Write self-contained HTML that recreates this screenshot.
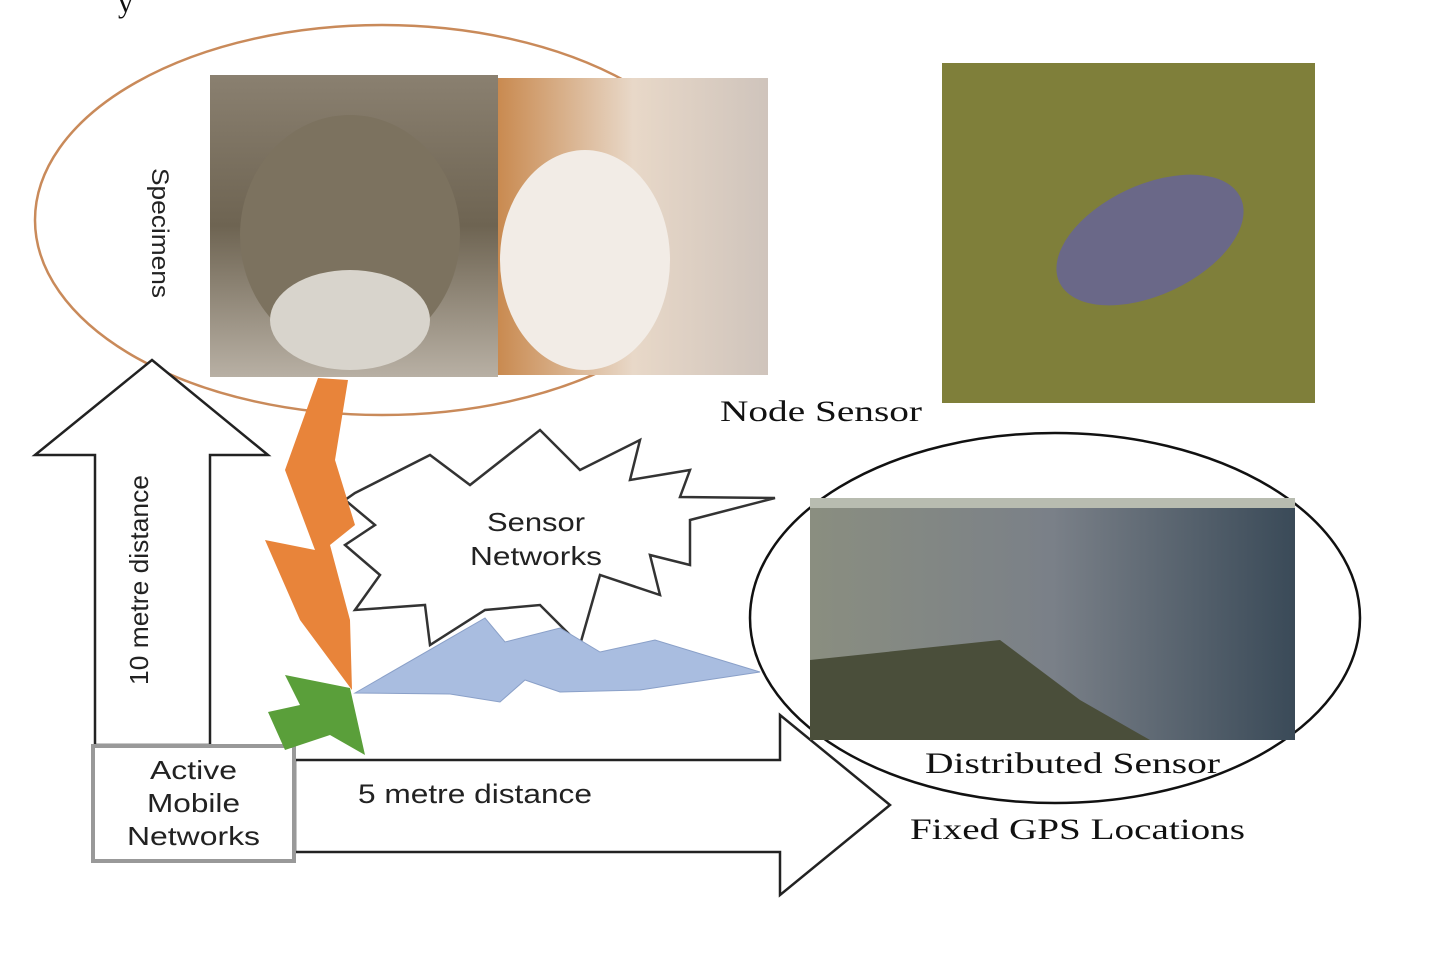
<!DOCTYPE html>
<html><head><meta charset="utf-8"><style>
body{margin:0;background:#fff;}
svg{display:block}
.s{font-family:"Liberation Sans",sans-serif;fill:#222}
.r{font-family:"Liberation Serif",serif;fill:#111}
</style></head><body>
<svg width="1429" height="966" viewBox="0 0 1429 966" xmlns="http://www.w3.org/2000/svg">
<defs>
<linearGradient id="cat" x1="0" y1="0" x2="0" y2="1"><stop offset="0" stop-color="#8a8070"/><stop offset="0.5" stop-color="#6e6452"/><stop offset="1" stop-color="#b8b0a4"/></linearGradient>
<linearGradient id="dog" x1="0" y1="0" x2="1" y2="0"><stop offset="0" stop-color="#c98a50"/><stop offset="0.5" stop-color="#e8d8c8"/><stop offset="1" stop-color="#cfc4bc"/></linearGradient>
<linearGradient id="lake" x1="0" y1="0" x2="1" y2="0"><stop offset="0" stop-color="#8a8e80"/><stop offset="0.5" stop-color="#7a8088"/><stop offset="1" stop-color="#3a4a58"/></linearGradient>
</defs>
<text x="118" y="12" class="r" font-size="30">y</text>
<ellipse cx="382" cy="220" rx="347" ry="195" fill="none" stroke="#c98a5a" stroke-width="2.5"/>
<rect x="210" y="75" width="288" height="302" fill="url(#cat)"/>
<ellipse cx="350" cy="235" rx="110" ry="120" fill="#7c725f"/>
<ellipse cx="350" cy="320" rx="80" ry="50" fill="#d8d4cc"/>
<rect x="498" y="78" width="270" height="297" fill="url(#dog)"/>
<ellipse cx="585" cy="260" rx="85" ry="110" fill="#f2ece6"/>
<text transform="translate(152,168) rotate(90)" class="s" font-size="24" textLength="130" lengthAdjust="spacingAndGlyphs">Specimens</text>
<rect x="942" y="63" width="373" height="340" fill="#7f7f3a"/>
<ellipse cx="1150" cy="240" rx="100" ry="55" fill="#6a6888" transform="rotate(-25 1150 240)"/>
<text x="720" y="421" class="r" font-size="30" textLength="202" lengthAdjust="spacingAndGlyphs">Node Sensor</text>
<polygon points="95,745 95,455 35,455 152,360 268,455 210,455 210,745" fill="#fff" stroke="#222" stroke-width="2.5"/>
<text transform="translate(148,685) rotate(-90)" class="s" font-size="26" textLength="210" lengthAdjust="spacingAndGlyphs">10 metre distance</text>
<polygon points="295,760 780,760 780,715 890,805 780,895 780,852 295,852" fill="#fff" stroke="#222" stroke-width="2.5"/>
<text x="358" y="803" class="s" font-size="27" textLength="234" lengthAdjust="spacingAndGlyphs">5 metre distance</text>
<rect x="93" y="746" width="201" height="115" fill="#fff" stroke="#999" stroke-width="4"/>
<text x="150" y="779" class="s" font-size="26" textLength="87" lengthAdjust="spacingAndGlyphs">Active</text>
<text x="147" y="812" class="s" font-size="26" textLength="93" lengthAdjust="spacingAndGlyphs">Mobile</text>
<text x="127" y="845" class="s" font-size="26" textLength="133" lengthAdjust="spacingAndGlyphs">Networks</text>
<polygon points="355,493 430,455 470,485 540,430 580,470 640,440 630,480 690,470 680,497 775,498 690,520 690,565 650,555 660,595 600,575 580,645 540,605 485,610 430,645 425,605 355,610 380,575 345,545 375,525 345,500" fill="#fff" stroke="#333" stroke-width="2.5"/>
<text x="487" y="531" class="s" font-size="26" textLength="98" lengthAdjust="spacingAndGlyphs">Sensor</text>
<text x="470" y="565" class="s" font-size="26" textLength="132" lengthAdjust="spacingAndGlyphs">Networks</text>
<polygon points="318,378 348,380 335,460 355,525 330,545 350,620 352,690 300,620 265,540 315,550 285,470" fill="#e8843a"/>
<polygon points="355,693 485,618 505,642 560,628 600,652 655,640 760,672 640,690 560,692 525,680 500,702 450,694" fill="#a9bde0" stroke="#8aa0c8" stroke-width="1"/>
<polygon points="285,675 350,688 365,755 330,735 285,750 268,712 300,705" fill="#5a9f3a"/>
<ellipse cx="1055" cy="618" rx="305" ry="185" fill="none" stroke="#111" stroke-width="2.5"/>
<rect x="810" y="498" width="485" height="242" fill="url(#lake)"/>
<rect x="810" y="498" width="485" height="10" fill="#b8bcb0"/>
<polygon points="810,660 1000,640 1080,700 1150,740 810,740" fill="#4a4e3a"/>
<text x="925" y="773" class="r" font-size="30" textLength="295" lengthAdjust="spacingAndGlyphs">Distributed Sensor</text>
<text x="910" y="839" class="r" font-size="30" textLength="335" lengthAdjust="spacingAndGlyphs">Fixed GPS Locations</text>
</svg>
</body></html>
